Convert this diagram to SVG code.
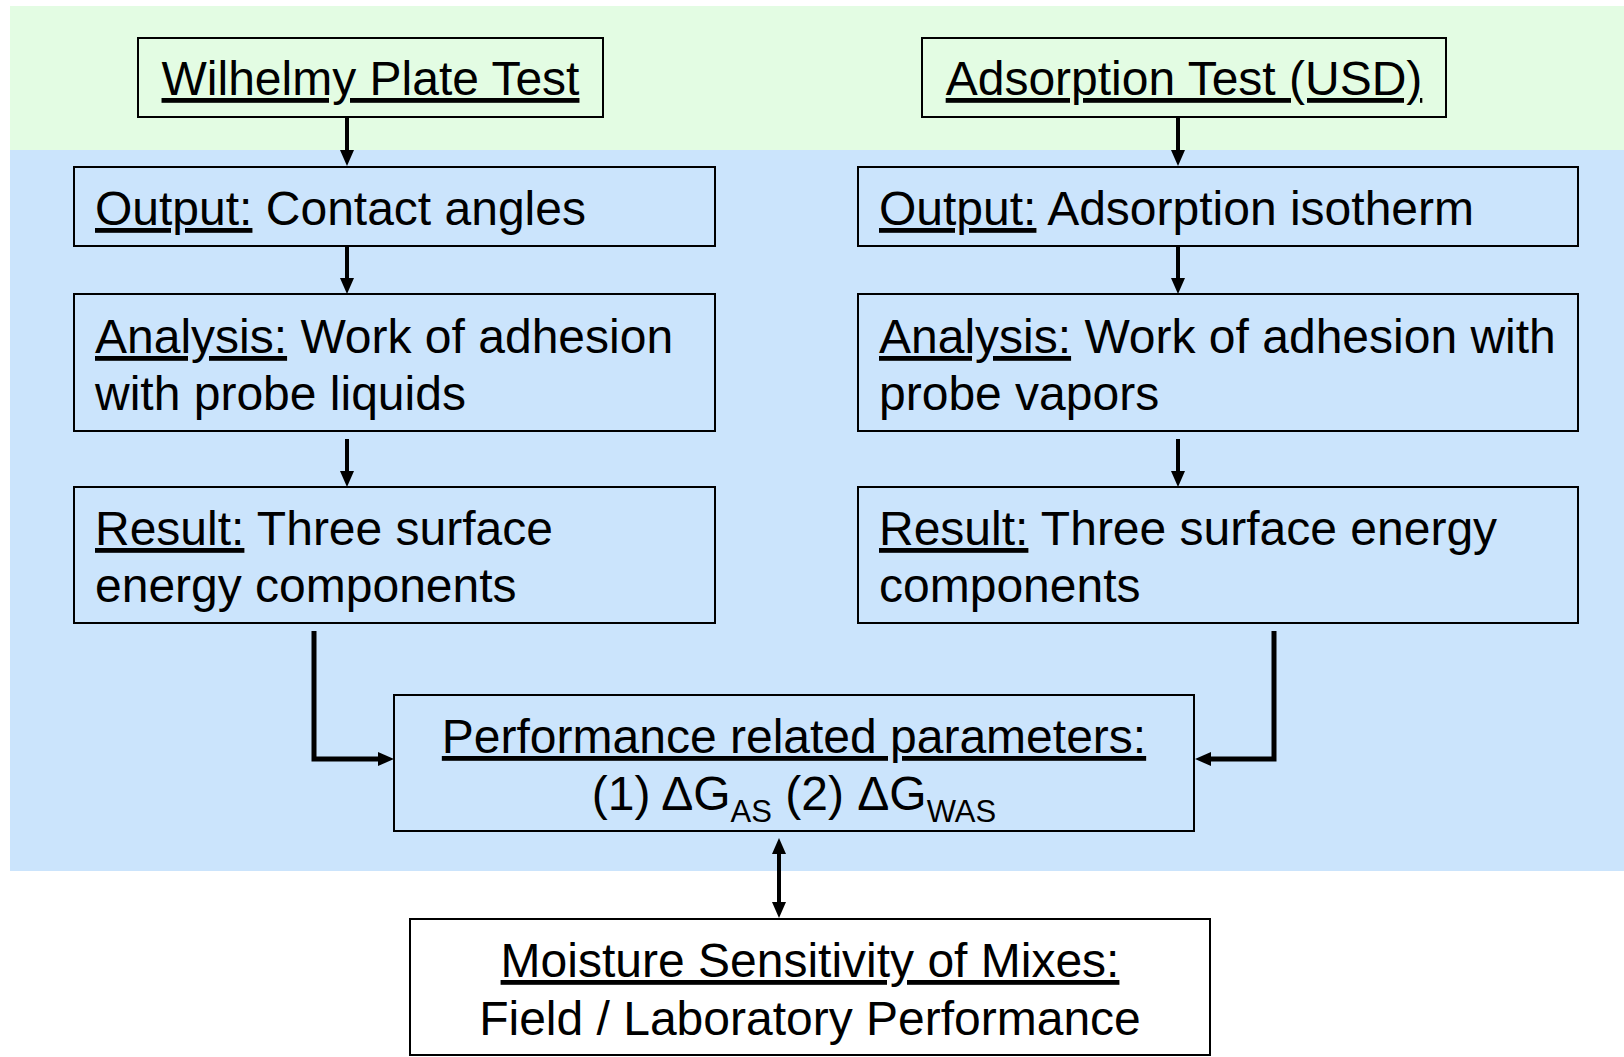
<svg xmlns="http://www.w3.org/2000/svg" width="1624" height="1057" viewBox="0 0 1624 1057">
  <style>
    .box { stroke: #000; stroke-width: 2; }
    .green { fill: #e3fce3; }
    .blue { fill: #cbe4fc; }
    .white { fill: #ffffff; }
    text { font-family: "Liberation Sans", Arial, sans-serif; font-size: 48px; fill: #000; }
    .c { text-anchor: middle; }
    .u { text-decoration: underline; }
    .sub { font-size: 31px; }
    .arrow { stroke: #000; stroke-width: 4; fill: none; }
    .elbow { stroke: #000; stroke-width: 5; fill: none; stroke-linejoin: miter; }
  </style>
  <defs>
    <marker id="head" markerUnits="userSpaceOnUse" viewBox="0 0 16 14" refX="6" refY="7" markerWidth="16" markerHeight="14" orient="auto-start-reverse">
      <path d="M0,0 L16,7 L0,14 z" fill="#000"/>
    </marker>
  </defs>

  <!-- background bands -->
  <rect x="10" y="6" width="1614" height="144" fill="#e3fce3"/>
  <rect x="10" y="150" width="1614" height="721" fill="#cbe4fc"/>

  <!-- connectors -->
  <g id="connectors">
    <line class="arrow" x1="347" y1="117" x2="347" y2="156" marker-end="url(#head)"/>
    <line class="arrow" x1="1178" y1="117" x2="1178" y2="156" marker-end="url(#head)"/>
    <line class="arrow" x1="347" y1="246" x2="347" y2="284" marker-end="url(#head)"/>
    <line class="arrow" x1="1178" y1="246" x2="1178" y2="284" marker-end="url(#head)"/>
    <line class="arrow" x1="347" y1="439" x2="347" y2="477" marker-end="url(#head)"/>
    <line class="arrow" x1="1178" y1="439" x2="1178" y2="477" marker-end="url(#head)"/>
    <polyline class="elbow" points="314,631 314,759 384,759" marker-end="url(#head)"/>
    <polyline class="elbow" points="1274,631 1274,759 1205,759" marker-end="url(#head)"/>
    <line class="arrow" x1="779" y1="848" x2="779" y2="908" marker-start="url(#head)" marker-end="url(#head)"/>
  </g>

  <g id="wilhelmy">
    <rect class="box green" x="138" y="38" width="465" height="79"/>
    <text class="c" x="370.5" y="95"><tspan class="u">Wilhelmy Plate Test</tspan></text>
  </g>

  <g id="adsorption">
    <rect class="box green" x="922" y="38" width="524" height="79"/>
    <text class="c" x="1184" y="95"><tspan class="u">Adsorption Test (USD)</tspan></text>
  </g>

  <g id="output-left">
    <rect class="box blue" x="74" y="167" width="641" height="79"/>
    <text x="95" y="225"><tspan class="u">Output:</tspan> Contact angles</text>
  </g>

  <g id="output-right">
    <rect class="box blue" x="858" y="167" width="720" height="79"/>
    <text x="879" y="225"><tspan class="u">Output:</tspan> Adsorption isotherm</text>
  </g>

  <g id="analysis-left">
    <rect class="box blue" x="74" y="294" width="641" height="137"/>
    <text x="95" y="353"><tspan class="u">Analysis:</tspan> Work of adhesion</text>
    <text x="95" y="410">with probe liquids</text>
  </g>

  <g id="analysis-right">
    <rect class="box blue" x="858" y="294" width="720" height="137"/>
    <text x="879" y="353"><tspan class="u">Analysis:</tspan> Work of adhesion with</text>
    <text x="879" y="410">probe vapors</text>
  </g>

  <g id="result-left">
    <rect class="box blue" x="74" y="487" width="641" height="136"/>
    <text x="95" y="545"><tspan class="u">Result:</tspan> Three surface</text>
    <text x="95" y="602">energy components</text>
  </g>

  <g id="result-right">
    <rect class="box blue" x="858" y="487" width="720" height="136"/>
    <text x="879" y="545"><tspan class="u">Result:</tspan> Three surface energy</text>
    <text x="879" y="602">components</text>
  </g>

  <g id="parameters">
    <rect class="box blue" x="394" y="695" width="800" height="136"/>
    <text class="c" x="794" y="753"><tspan class="u">Performance related parameters:</tspan></text>
    <text class="c" x="794" y="810">(1) ΔG<tspan class="sub" dy="12">AS</tspan><tspan dy="-12"> (2) ΔG</tspan><tspan class="sub" dy="12">WAS</tspan></text>
  </g>

  <g id="moisture">
    <rect class="box white" x="410" y="919" width="800" height="136"/>
    <text class="c" x="810" y="977"><tspan class="u">Moisture Sensitivity of Mixes:</tspan></text>
    <text class="c" x="810" y="1035">Field / Laboratory Performance</text>
  </g>
</svg>
